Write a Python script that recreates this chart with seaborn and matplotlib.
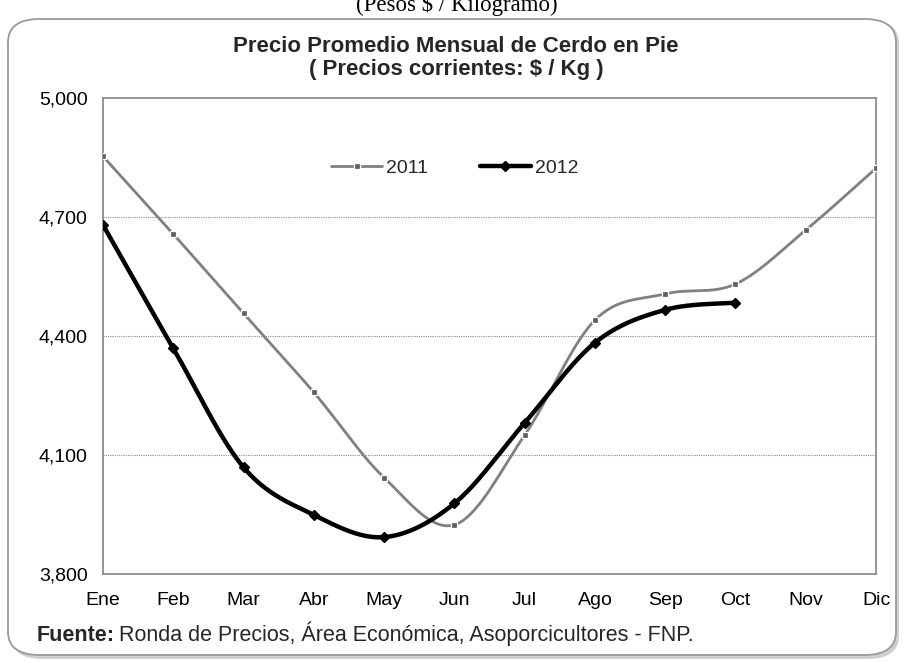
import numpy as np
import pandas as pd
import matplotlib
matplotlib.use("Agg")
import matplotlib.pyplot as plt
import seaborn as sns
from matplotlib.patches import FancyBboxPatch
from matplotlib.lines import Line2D
from matplotlib.ticker import FuncFormatter

months = ["Ene", "Feb", "Mar", "Abr", "May", "Jun", "Jul", "Ago", "Sep", "Oct", "Nov", "Dic"]
v2011 = [4853, 4657, 4457, 4258, 4043, 3924, 4150, 4440, 4506, 4531, 4667, 4823]
v2012 = [4680, 4369, 4069, 3949, 3893, 3978, 4181, 4383, 4466, 4484]
yticks = [3800, 4100, 4400, 4700, 5000]

sns.set_style("white")
plt.rcParams['font.family'] = ['Liberation Sans', 'DejaVu Sans']


def smooth(xs, ys, n=40):
    # Excel-like smoothed line (Catmull-Rom Bezier)
    xs = np.asarray(xs, float)
    ys = np.asarray(ys, float)
    P = np.column_stack([xs, ys])
    out = []
    for i in range(len(P) - 1):
        p0 = P[i - 1] if i > 0 else P[i]
        p1 = P[i]
        p2 = P[i + 1]
        p3 = P[i + 2] if i + 2 < len(P) else P[i + 1]
        c1 = p1 + (p2 - p0) / 6.0
        c2 = p2 - (p3 - p1) / 6.0
        t = np.linspace(0, 1, n)[:, None]
        seg = ((1 - t) ** 3) * p1 + 3 * ((1 - t) ** 2) * t * c1 + 3 * (1 - t) * t ** 2 * c2 + t ** 3 * p2
        if i > 0:
            seg = seg[1:]
        out.append(seg)
    out = np.vstack(out)
    return out[:, 0], out[:, 1]


fig = plt.figure(figsize=(9.07, 6.63), dpi=100)

# rounded frame with shadow
W, H = 907, 663
shadow = FancyBboxPatch((11 / W, 1 - 659 / H), (888) / W, (639) / H,
                        boxstyle="round,pad=0,rounding_size=0.035", transform=fig.transFigure,
                        facecolor="#cfcfcf", edgecolor="none", zorder=0)
frame = FancyBboxPatch((8 / W, 1 - 655 / H), (888) / W, (636) / H,
                       boxstyle="round,pad=0,rounding_size=0.035", transform=fig.transFigure,
                       facecolor="white", edgecolor="#9a9a9a", linewidth=1.3, zorder=1)
fig.patches.extend([shadow, frame])

fig.text(0.504, 1 - 11 / H, "(Pesos $ / Kilogramo)", ha="center", va="baseline",
         fontsize=16.5, family=["Liberation Serif", "DejaVu Serif"], color="black", zorder=0.5)

ax = fig.add_axes([103 / W, 1 - 574 / H, (876 - 103) / W, (574 - 98) / H])
ax.set_zorder(2)
ax.patch.set_alpha(0)

x = np.arange(len(months))
sx1, sy1 = smooth(x, v2011)
sx2, sy2 = smooth(x[:len(v2012)], v2012)
d1 = pd.DataFrame({"x": sx1, "y": sy1})
d2 = pd.DataFrame({"x": sx2, "y": sy2})

sns.lineplot(data=d1, x="x", y="y", ax=ax, color="#808080", linewidth=2.0, sort=False, zorder=3)
sns.lineplot(data=d2, x="x", y="y", ax=ax, color="black", linewidth=3.2, sort=False, zorder=4)
ax.plot(x, v2011, linestyle="none", marker="s", markersize=4.2, markerfacecolor="#606060",
        markeredgecolor="white", markeredgewidth=0.9, zorder=3.5)
ax.plot(x[:len(v2012)], v2012, linestyle="none", marker="D", markersize=5.5,
        color="black", zorder=5)

ax.set_xlim(0, 11)
ax.set_ylim(3800, 5000)
ax.set_yticks(yticks)
ax.yaxis.set_major_formatter(FuncFormatter(lambda v, p: f"{int(v):,}"))
ax.set_xticks(x)
ax.set_xticklabels(months)
ax.set_xlabel("")
ax.set_ylabel("")
for s in ax.spines.values():
    s.set_color("#8c8c8c")
    s.set_linewidth(1.3)
    s.set_visible(True)
ax.tick_params(axis="both", labelsize=14, colors="#8c8c8c", labelcolor="black",
               length=4, width=1, direction="out")
ax.tick_params(axis="x", pad=18.3)
ax.tick_params(axis="y", pad=7)
for lbl in ax.get_xticklabels():
    lbl.set_va("baseline")
ax.grid(False)
for yv in yticks[1:-1]:
    ax.axhline(yv, color="#8a8a8a", linestyle=(0, (1, 1)), linewidth=0.8, zorder=1)

handles = [
    Line2D([], [], color="#808080", linewidth=2.0, marker="s", markersize=4.2,
           markerfacecolor="#606060", markeredgecolor="white", markeredgewidth=0.9),
    Line2D([], [], color="black", linewidth=3.2, marker="D", markersize=5.5),
]
ax.legend(handles, ["2011", "2012"], loc="center", bbox_to_anchor=(0.455, 0.853), ncol=2,
          frameon=False, fontsize=14, handlelength=2.6, columnspacing=2.7, handletextpad=0.2)

fig.text(0.503, 1 - 47 / H, "Precio Promedio Mensual de Cerdo en Pie", ha="center", va="center",
         fontsize=16, fontweight="bold", zorder=3)
fig.text(0.503, 1 - 70 / H, "( Precios corrientes: $ / Kg )", ha="center", va="center",
         fontsize=16, fontweight="bold", zorder=3)

t1 = fig.text(37 / W, 1 - 641 / H, "Fuente:", ha="left", va="baseline", fontsize=15.5,
              fontweight="bold", zorder=3)
fig.canvas.draw()
bb = t1.get_window_extent()
x_end = bb.x1 / fig.bbox.width
fig.text(x_end + 4 / W, 1 - 641 / H, "Ronda de Precios, Área Económica, Asoporcicultores - FNP.",
         ha="left", va="baseline", fontsize=15.5, zorder=3)

fig.savefig("out.png", dpi=100)
